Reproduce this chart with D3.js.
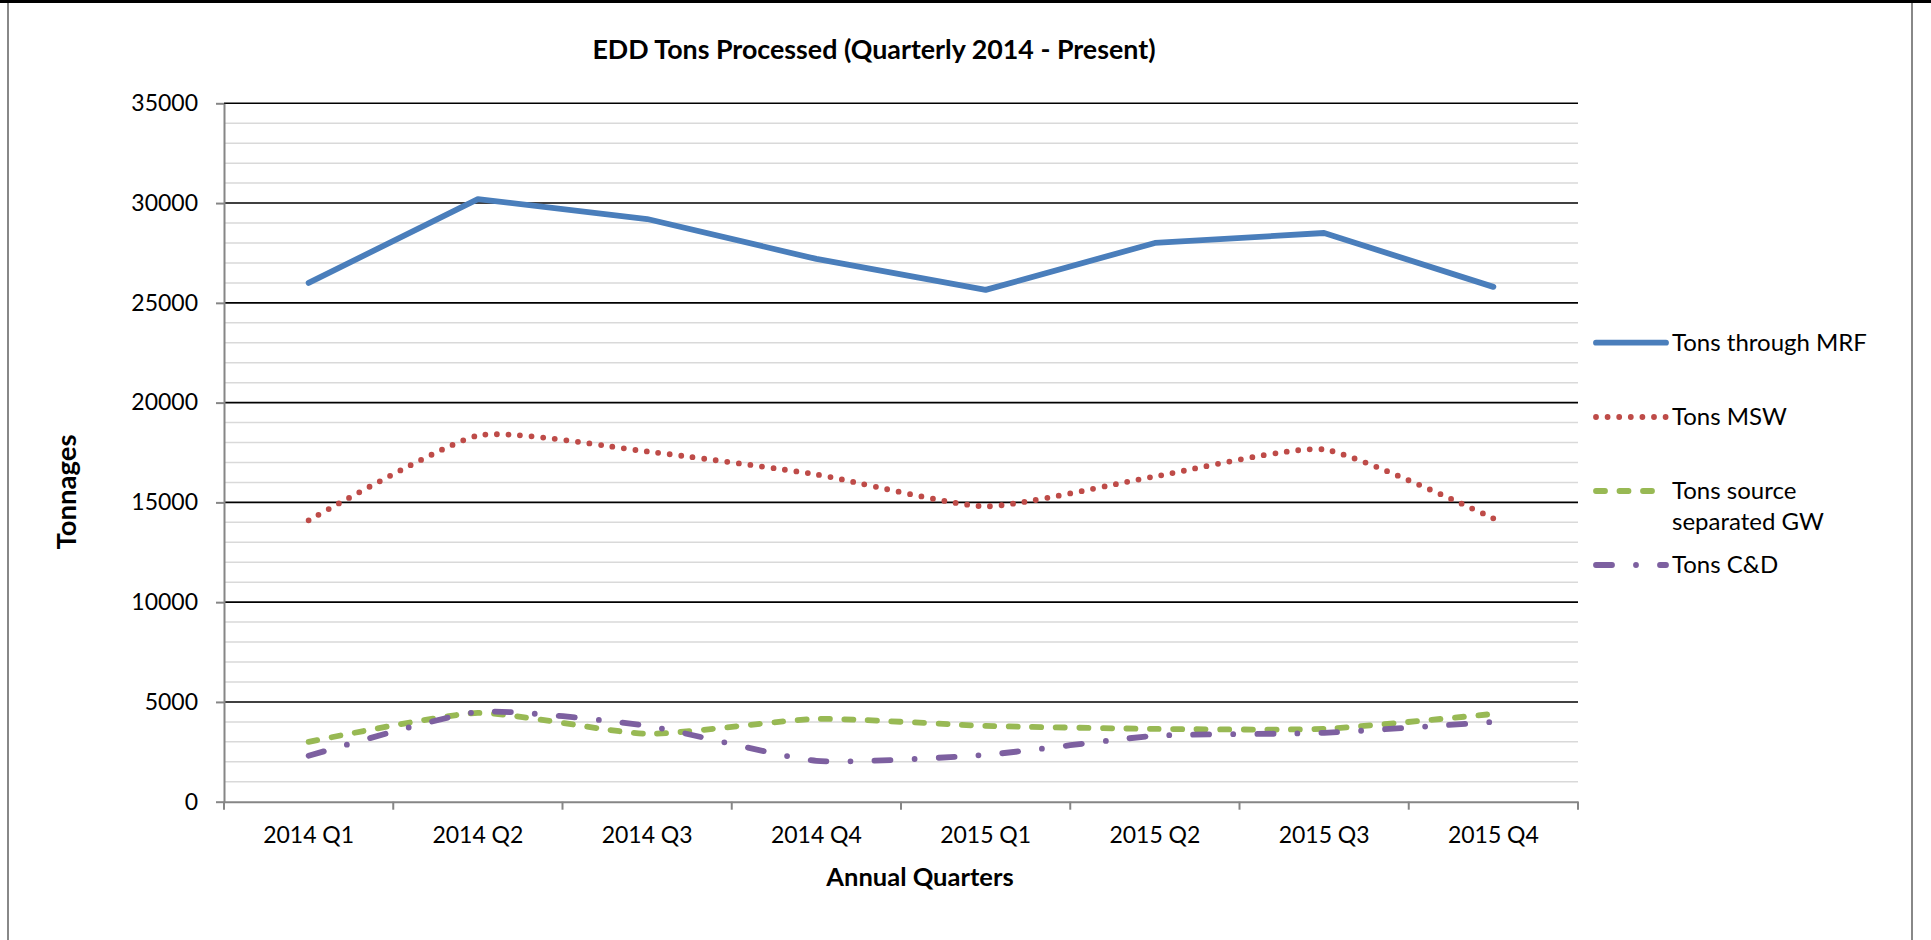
<!DOCTYPE html>
<html lang="en">
<head>
    <meta charset="UTF-8">
    <title>EDD Tons Processed</title>
    <style>
        body { margin: 0; background: #fff; }
        svg text { font-family: Lato, "Open Sans", sans-serif; fill: #000; }
    </style>
</head>
<body>
    <svg id="chart" width="1931" height="940"></svg>
    <script src="https://cdnjs.cloudflare.com/ajax/libs/d3/7.8.5/d3.min.js"></script>
    <script>
        // values
        var quarters = ["2014 Q1", "2014 Q2", "2014 Q3", "2014 Q4", "2015 Q1", "2015 Q2", "2015 Q3", "2015 Q4"];
        var tonsMRF = [26000, 30200, 29200, 27200, 25650, 28000, 28500, 25800];
        var tonsMSW = [14100, 18350, 17550, 16400, 14800, 16300, 17650, 14200];
        var tonsGW  = [3000, 4450, 3400, 4150, 3800, 3650, 3650, 4400];
        var tonsCD  = [2300, 4500, 3800, 2050, 2350, 3300, 3450, 4000];
        var yTicks = [0, 5000, 10000, 15000, 20000, 25000, 30000, 35000];

        var svg = d3.select("#chart"),
            width = +svg.attr("width"),
            height = +svg.attr("height");

        var plotLeft = 224, plotRight = 1578, plotTop = 103.3, plotBottom = 801.7;

        var x = d3.scaleBand().domain(quarters).range([plotLeft, plotRight]);
        var y = d3.scaleLinear().domain([0, 35000]).range([plotBottom, plotTop]);

        svg.append("rect").attr("width", width).attr("height", height).attr("fill", "#fff");

        // outer frame of the chart object
        svg.append("rect").attr("x", 0).attr("y", 0).attr("width", width).attr("height", 3).attr("fill", "#000");
        [8, 1912].forEach(function (fx) {
            svg.append("line")
                .attr("x1", fx).attr("x2", fx).attr("y1", 3).attr("y2", height)
                .attr("stroke", "#888").attr("stroke-width", 2);
        });

        // minor gridlines
        svg.append("g").selectAll("line")
            .data(d3.range(1000, 35000, 1000).filter(function (v) { return v % 5000 !== 0; }))
            .enter().append("line")
            .attr("x1", plotLeft).attr("x2", plotRight)
            .attr("y1", function (d) { return y(d); })
            .attr("y2", function (d) { return y(d); })
            .attr("stroke", "#d9d9d9").attr("stroke-width", 1.5);

        // major gridlines
        svg.append("g").selectAll("line")
            .data(yTicks.filter(function (v) { return v > 0; }))
            .enter().append("line")
            .attr("x1", plotLeft).attr("x2", plotRight)
            .attr("y1", function (d) { return y(d); })
            .attr("y2", function (d) { return y(d); })
            .attr("stroke", "#000").attr("stroke-width", 1.6);

        // y axis
        var yAxis = svg.append("g")
            .attr("transform", "translate(" + plotLeft + ",0)")
            .call(d3.axisLeft(y).tickValues(yTicks).tickFormat(d3.format("d"))
                .tickSize(8).tickSizeOuter(0).tickPadding(18));
        yAxis.select(".domain").attr("stroke", "#868686").attr("stroke-width", 2);
        yAxis.selectAll(".tick line").attr("stroke", "#868686").attr("stroke-width", 2);
        yAxis.selectAll("text").style("font-size", "23px").style("font-family", "Lato");

        // x axis
        var xAxis = svg.append("g")
            .attr("transform", "translate(0," + plotBottom + ")")
            .call(d3.axisBottom(x).tickSize(0).tickPadding(25));
        xAxis.select(".domain").attr("stroke", "#868686").attr("stroke-width", 2);
        xAxis.selectAll("text").style("font-size", "23px").style("font-family", "Lato");

        // category boundary tick marks
        svg.append("g").selectAll("line")
            .data(quarters.map(function (q) { return x(q); }).concat([plotRight]))
            .enter().append("line")
            .attr("x1", function (d) { return d; }).attr("x2", function (d) { return d; })
            .attr("y1", plotBottom).attr("y2", plotBottom + 8)
            .attr("stroke", "#868686").attr("stroke-width", 2);

        var cx = function (d, i) { return x(quarters[i]) + x.bandwidth() / 2; };

        // smoothed lines in the reference have only mild rounding at the turns
        var smooth = d3.curveCardinal.tension(0.45);

        var series = [
            { name: "Tons through MRF", values: tonsMRF, color: "#4a7ebb", dash: null, curve: d3.curveLinear },
            { name: "Tons MSW", values: tonsMSW, color: "#be4b48", dash: "0 11.6", curve: smooth },
            { name: "Tons source separated GW", values: tonsGW, color: "#98b954", dash: "9 14.5", curve: smooth },
            { name: "Tons C&D", values: tonsCD, color: "#7d60a0", dash: "16 24 0 24", curve: smooth }
        ];

        series.forEach(function (s) {
            var line = d3.line()
                .x(cx)
                .y(function (d) { return y(d); })
                .curve(s.curve);
            svg.append("path")
                .datum(s.values)
                .attr("d", line)
                .attr("fill", "none")
                .attr("stroke", s.color)
                .attr("stroke-width", 5.8)
                .attr("stroke-linecap", "round")
                .attr("stroke-linejoin", "round")
                .attr("stroke-dasharray", s.dash);
        });

        // legend
        var legendRows = [
            { lines: ["Tons through MRF"], y: 342.7 },
            { lines: ["Tons MSW"], y: 417 },
            { lines: ["Tons source", "separated GW"], y: 491 },
            { lines: ["Tons C&D"], y: 565 }
        ];
        var legend = svg.append("g");
        legendRows.forEach(function (r, i) {
            legend.append("line")
                .attr("x1", 1596).attr("x2", 1666)
                .attr("y1", r.y).attr("y2", r.y)
                .attr("stroke", series[i].color)
                .attr("stroke-width", 5.8)
                .attr("stroke-linecap", "round")
                .attr("stroke-dasharray", series[i].dash);
            r.lines.forEach(function (t, j) {
                legend.append("text")
                    .attr("x", 1672)
                    .attr("y", r.y + j * 31)
                    .attr("dy", "0.35em")
                    .style("font-size", "24px")
                    .text(t);
            });
        });

        // titles
        svg.append("text")
            .attr("x", 874).attr("y", 59)
            .attr("text-anchor", "middle")
            .style("font-size", "26.8px").style("font-weight", "bold")
            .text("EDD Tons Processed (Quarterly 2014 - Present)");

        svg.append("text")
            .attr("x", 920).attr("y", 886)
            .attr("text-anchor", "middle")
            .style("font-size", "25.5px").style("font-weight", "bold")
            .text("Annual Quarters");

        svg.append("text")
            .attr("transform", "translate(76,492) rotate(-90)")
            .attr("text-anchor", "middle")
            .style("font-size", "27.5px").style("font-weight", "bold")
            .text("Tonnages");
    </script>
</body>
</html>
